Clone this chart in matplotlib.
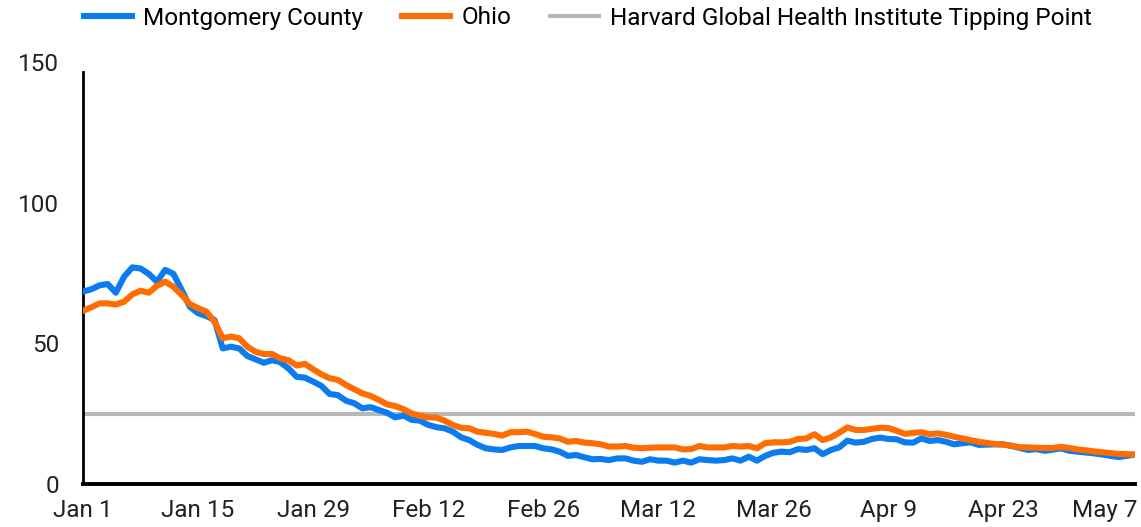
import numpy as np
import pandas as pd
import matplotlib.pyplot as plt
import matplotlib.transforms as mtransforms

plt.rcParams['font.family'] = ['Roboto', 'DejaVu Sans']

# 7-day average cases per 100k, daily from Jan 1
montgomery = [68.4, 69.2, 70.6, 71.1, 68.0, 73.7, 77.0, 76.6, 74.7, 71.9,
              76.1, 74.7, 69.0, 63.0, 60.7, 59.7, 58.3, 48.2, 48.8, 48.2,
              45.5, 44.3, 43.1, 44.0, 43.3, 41.1, 38.1, 37.8, 36.4, 34.9,
              32.0, 31.6, 29.6, 28.7, 26.9, 27.3, 26.3, 25.3, 23.7, 24.3,
              22.8, 22.5, 21.0, 20.2, 19.8, 18.6, 16.6, 15.6, 13.9, 12.7,
              12.3, 12.1, 13.0, 13.5, 13.5, 13.5, 12.7, 12.3, 11.5, 10.0,
              10.3, 9.5, 8.8, 8.9, 8.5, 9.1, 9.1, 8.3, 7.9, 8.8,
              8.3, 8.3, 7.6, 8.3, 7.6, 8.8, 8.5, 8.3, 8.5, 9.1,
              8.3, 9.7, 8.3, 10.0, 11.1, 11.5, 11.3, 12.4, 12.1, 12.7,
              10.6, 12.1, 13.0, 15.4, 14.7, 15.0, 16.0, 16.5, 16.0, 15.9,
              14.8, 14.7, 16.2, 15.3, 15.6, 15.0, 14.1, 14.5, 14.8, 13.9,
              14.0, 14.1, 14.1, 13.5, 12.8, 12.1, 12.4, 11.8, 12.2, 12.7,
              11.8, 11.5, 11.2, 10.9, 10.5, 10.0, 9.6, 10.0, 10.5]
ohio = [61.6, 62.8, 64.2, 64.2, 63.8, 64.8, 67.4, 68.7, 68.0, 70.4,
        71.9, 70.1, 67.2, 64.0, 62.5, 61.3, 57.7, 51.8, 52.4, 51.8,
        48.8, 47.0, 46.2, 46.2, 44.7, 44.0, 42.1, 42.7, 40.8, 39.0,
        37.6, 37.0, 35.2, 33.7, 32.2, 31.3, 29.9, 28.3, 27.7, 26.6,
        25.1, 24.2, 23.7, 23.6, 22.5, 21.0, 20.0, 19.8, 18.6, 18.2,
        17.8, 17.2, 18.4, 18.4, 18.6, 17.8, 16.8, 16.6, 16.2, 15.0,
        15.3, 14.7, 14.5, 14.1, 13.3, 13.3, 13.5, 12.9, 12.7, 12.9,
        13.0, 13.0, 13.0, 12.3, 12.4, 13.5, 13.0, 13.0, 13.0, 13.5,
        13.3, 13.5, 12.7, 14.5, 14.8, 14.8, 15.0, 16.0, 16.2, 17.7,
        15.6, 16.6, 18.2, 20.1, 19.2, 19.2, 19.6, 20.0, 19.9, 18.9,
        17.8, 18.2, 18.4, 17.7, 18.0, 17.5, 16.8, 16.2, 15.6, 15.0,
        14.6, 14.2, 14.0, 13.6, 13.1, 13.0, 12.9, 12.8, 12.8, 13.2,
        12.8, 12.3, 12.0, 11.6, 11.3, 11.0, 10.7, 10.6, 10.5]
tipping_point = 25
tick_labels = ['Jan 1', 'Jan 15', 'Jan 29', 'Feb 12', 'Feb 26',
               'Mar 12', 'Mar 26', 'Apr 9', 'Apr 23', 'May 7']
y_ticks = [0, 50, 100, 150]

dates = pd.date_range('2021-01-01', periods=len(montgomery))
tick_dates = pd.date_range('2021-01-01', periods=len(tick_labels), freq='14D')

W, H = 1141, 527
fig = plt.figure(figsize=(W / 100, H / 100), dpi=100)
ax = fig.add_axes([83 / W, 43 / H, (1135 - 83) / W, 422 / H])

ax.plot(dates, montgomery, color='#0b7cf0', lw=4.4, solid_joinstyle='round',
        label='Montgomery County', zorder=3)
ax.plot(dates, ohio, color='#ff6d01', lw=4.4, solid_joinstyle='round',
        label='Ohio', zorder=4)
ax.axhline(tipping_point, color='#b7b7b7', lw=3,
           label='Harvard Global Health Institute Tipping Point', zorder=2)

ax.set_xlim(dates[0], dates[-1])
ax.set_ylim(0, 150)
ax.set_xticks(tick_dates)
ax.set_xticklabels(tick_labels)
ax.set_yticks(y_ticks)
ax.tick_params(axis='both', length=0, labelsize=17.5, colors='#222222')
ax.tick_params(axis='x', pad=11)
ax.tick_params(axis='y', pad=17)

for s in ['top', 'right']:
    ax.spines[s].set_visible(False)
ax.spines['left'].set_linewidth(2)
ax.spines['left'].set_bounds(0, 146.5)
ax.spines['bottom'].set_linewidth(2.8)

# last label sits inside the chart edge
last = ax.get_xticklabels()[-1]
last.set_transform(last.get_transform() +
                   mtransforms.ScaledTranslation(-14 / 100, 0, fig.dpi_scale_trans))

fig.legend(loc='center left', bbox_to_anchor=(84 / W, 1 - 18 / H), ncol=3,
           frameon=False, fontsize=17.6, handlelength=1.97, handletextpad=0.45,
           columnspacing=1.6, borderpad=0, borderaxespad=0)

fig.savefig('out.png', dpi=100)
